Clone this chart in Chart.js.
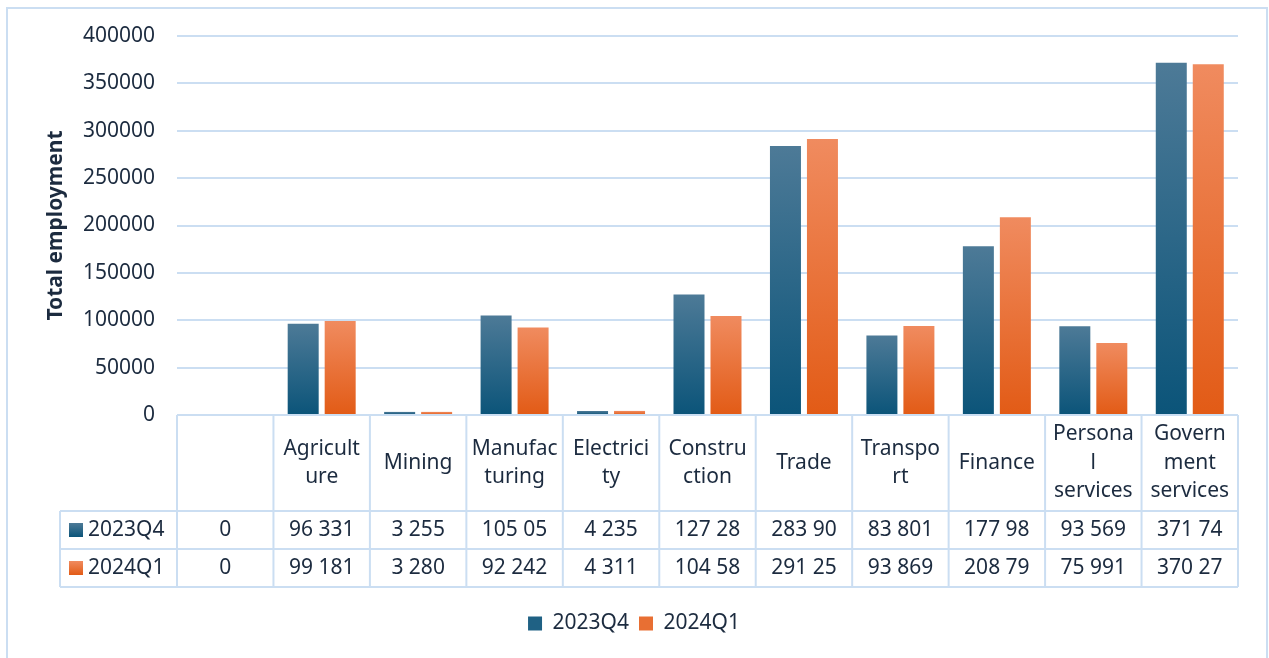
<!DOCTYPE html>
<html lang="en">
<head>
<meta charset="UTF-8">
<title>Total employment</title>
<script src="https://cdn.jsdelivr.net/npm/chart.js"></script>
<style>
    body { margin: 0; background: #ffffff; }
    canvas { display: block; }
</style>
</head>
<body>
<canvas id="chart" width="1269" height="658"></canvas>
<script>
// data
const categories = ['', 'Agriculture', 'Mining', 'Manufacturing', 'Electricity', 'Construction',
    'Trade', 'Transport', 'Finance', 'Personal services', 'Government services'];
// header text as Excel wraps it in the data table
const headerLines = [[], ['Agricult', 'ure'], ['Mining'], ['Manufac', 'turing'], ['Electrici', 'ty'],
    ['Constru', 'ction'], ['Trade'], ['Transpo', 'rt'], ['Finance'], ['Persona', 'l', 'services'],
    ['Govern', 'ment', 'services']];
const seriesNames = ['2023Q4', '2024Q1'];
const q4_2023 = [0, 96331, 3255, 105050, 4235, 127280, 283900, 83801, 177980, 93569, 371740];
const q1_2024 = [0, 99181, 3280, 92242, 4311, 104580, 291250, 93869, 208790, 75991, 370270];
const yTicks = [0, 50000, 100000, 150000, 200000, 250000, 300000, 350000, 400000];

const FONT = "'Noto Sans', sans-serif";
const TEXT = '#1c2b3f';
const LINE = '#cbdef2';
const blue = { top: '#4d7a97', bottom: '#0b5479', solid: '#1f6184' };
const orange = { top: '#f08b5f', bottom: '#e25b16', solid: '#e86f33' };

// the table cells keep only 6 characters, like the source sheet
function cellText(v) {
    return String(v).replace(/\B(?=(\d{3})+(?!\d))/g, ' ').slice(0, 6);
}

function barFill(pal) {
    return ctx => {
        const chart = ctx.chart;
        if (ctx.dataIndex === undefined || !chart.chartArea) return pal.solid;
        const y = chart.scales.y;
        const v = ctx.dataset.data[ctx.dataIndex];
        const top = y.getPixelForValue(v), base = y.getPixelForValue(0);
        if (base - top < 1) return pal.solid;
        const g = chart.ctx.createLinearGradient(0, top, 0, base);
        g.addColorStop(0, pal.top);
        g.addColorStop(1, pal.bottom);
        return g;
    };
}

const tablePlugin = {
    id: 'dataTable',
    beforeDraw(chart) {
        const c = chart.ctx;
        c.save();
        c.strokeStyle = LINE;
        c.lineWidth = 2;
        c.strokeRect(7, 8, chart.width - 9, chart.height + 10);
        c.restore();
    },
    afterDraw(chart) {
        const c = chart.ctx;
        const area = chart.chartArea;
        const n = categories.length;
        const w = (area.right - area.left) / n;
        const top = area.bottom;
        const headH = 96, rowH = 38;
        const r1 = top + headH, r2 = r1 + rowH, r3 = r2 + rowH;
        const leftX = 60;

        c.save();
        c.strokeStyle = LINE;
        c.lineWidth = 2;
        c.beginPath();
        c.moveTo(area.left, top); c.lineTo(area.right, top);
        [r1, r2, r3].forEach(y => { c.moveTo(leftX, y); c.lineTo(area.right, y); });
        for (let i = 0; i <= n; i++) {
            const x = area.left + i * w;
            c.moveTo(x, top); c.lineTo(x, r3);
        }
        c.moveTo(leftX, r1); c.lineTo(leftX, r3);
        c.stroke();

        c.fillStyle = TEXT;
        c.font = '21px ' + FONT;
        c.textAlign = 'center';
        c.textBaseline = 'middle';
        const lh = 28.5;
        headerLines.forEach((lines, i) => {
            const cx = area.left + (i + 0.5) * w;
            const y0 = (top + r1) / 2 - (lines.length - 1) * lh / 2;
            lines.forEach((t, k) => c.fillText(t, cx, y0 + k * lh));
        });

        [q4_2023, q1_2024].forEach((data, s) => {
            const cy = s === 0 ? (r1 + r2) / 2 : (r2 + r3) / 2;
            data.forEach((v, i) => {
                c.fillStyle = TEXT;
                c.textAlign = 'center';
                c.fillText(cellText(v), area.left + (i + 0.5) * w, cy);
            });
            const pal = s === 0 ? blue : orange;
            const g = c.createLinearGradient(0, cy - 7, 0, cy + 7);
            g.addColorStop(0, pal.top);
            g.addColorStop(1, pal.bottom);
            c.fillStyle = g;
            c.fillRect(69, cy - 7, 14, 14);
            c.fillStyle = TEXT;
            c.textAlign = 'left';
            c.fillText(seriesNames[s], 88, cy);
        });
        c.restore();
    }
};

new Chart(document.getElementById('chart'), {
    type: 'bar',
    data: {
        labels: categories,
        datasets: [
            { label: seriesNames[0], data: q4_2023, backgroundColor: barFill(blue) },
            { label: seriesNames[1], data: q1_2024, backgroundColor: barFill(orange) }
        ]
    },
    options: {
        responsive: false,
        animation: false,
        layout: { padding: { left: 30, right: 31, top: 36, bottom: 14 } },
        datasets: { bar: { categoryPercentage: 0.767, barPercentage: 0.838 } },
        scales: {
            x: {
                grid: { display: false },
                border: { display: false },
                ticks: { display: false },
                afterFit: s => { s.height = 188; }
            },
            y: {
                min: 0,
                max: 400000,
                afterBuildTicks: s => { s.ticks = yTicks.map(v => ({ value: v })); },
                afterFit: s => { s.width = 147; },
                grid: { color: LINE, lineWidth: 2, drawTicks: false },
                border: { display: false },
                ticks: {
                    padding: 22, color: TEXT, font: { family: FONT, size: 21 },
                    callback: v => String(v)
                },
                title: {
                    display: true,
                    text: 'Total employment',
                    color: TEXT,
                    font: { family: FONT, size: 21, weight: 'bold' },
                    padding: { top: 13, bottom: 0 }
                }
            }
        },
        plugins: {
            legend: {
                position: 'bottom',
                labels: {
                    color: TEXT,
                    font: { family: FONT, size: 21 },
                    boxWidth: 14,
                    boxHeight: 14,
                    padding: 10
                }
            },
            tooltip: { enabled: false }
        }
    },
    plugins: [tablePlugin]
});
</script>
</body>
</html>
